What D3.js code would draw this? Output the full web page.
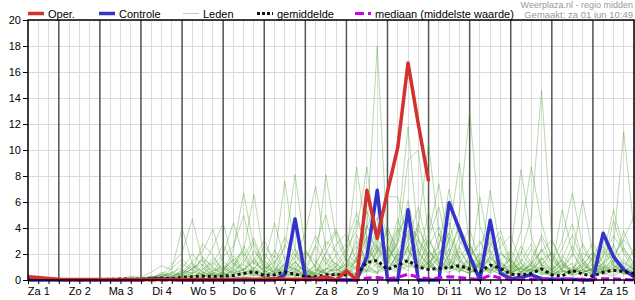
<!DOCTYPE html>
<html><head><meta charset="utf-8">
<script src="https://cdn.jsdelivr.net/npm/d3@7"></script>
<style>body{margin:0;background:#fff}svg{display:block;font-family:"Liberation Sans",Arial,sans-serif}</style>
</head><body><svg id="c" width="635" height="300"></svg>
<script>
const dagLabels = ["Za 1","Zo 2","Ma 3","Di 4","Wo 5","Do 6","Vr 7","Za 8","Zo 9","Ma 10","Di 11","Wo 12","Do 13","Vr 14","Za 15"];
const yTicks = [0,2,4,6,8,10,12,14,16,18,20];
const legendNames = ["Oper.","Controle","Leden","gemiddelde","mediaan (middelste waarde)"];
const bronTekst = ["Weerplaza.nl - regio midden","Gemaakt: za 01 jun 10:49"];

const oper = [0.25,0.2,0.12, 0.05,0.03,0.03,0.03, 0.03,0.03,0.03,0.03, 0.03,0.03,0.03,0.03, 0.03,0.03,0.03,0.03, 0.03,0.03,0.05,0.05, 0.05,0.1,0.05,0.05, 0.05,0.1,0.25,0, 0.7,0,6.9,3.2, 6.8,10.2,16.7,12.0, 7.6];
const controle = [0,0,0, 0,0,0,0, 0,0,0,0, 0,0.1,0.1,0.05, 0,0,0,0, 0,0,0,0, 0,0,0.4,4.7, 0.25,0.1,0.05,0, 0,0,1.8,6.9, 0,0,5.4,0, 0,0,5.95,3.9, 1.85,0,4.6,0.5, 0.1,0.2,0.4,0.1, 0.05,0.05,0.05,0, 0,3.6,1.8,0.8, 0.25];
const gemiddelde = [0.2,0.15,0.08, 0.05,0.03,0.03,0.03, 0.04,0.05,0.08,0.06, 0.06,0.1,0.15,0.12, 0.2,0.25,0.3,0.25, 0.3,0.35,0.5,0.64, 0.35,0.4,0.62,0.45, 0.25,0.25,0.4,0.4, 0.4,0.45,1.35,1.5, 0.8,1.15,1.5,1.0, 0.8,0.9,0.95,1.1, 0.85,0.65,1.15,0.9, 0.45,0.4,0.5,0.85, 0.4,0.3,0.75,0.45, 0.3,0.6,0.75,0.65, 0.5];
const mediaan = [0.15,0.1,0.05, 0,0,0,0, 0,0,0,0, 0,0,0,0, 0,0,0,0, 0,0.05,0.05,0.05, 0,0,0.05,0, 0,0,0,0, 0,0,0.15,0.2, 0.1,0.2,0.45,0.2, 0.1,0.15,0.25,0.2, 0.1,0.05,0.35,0.15, 0.05,0.05,0.05,0.05, 0.05,0.05,0.05,0.05, 0.05,0.1,0.1,0.05, 0];

const leden = [
[0,0,0, 0,0,0,0, 0,0,0,0.1, 0.2,0.6,1.1,0.8, 4.0,1.2,0.3,0.5, 0.8,1.5,2.2,0.6, 0.2,0.4,1.3,0.8, 0.3,0.5,2.1,1.2, 0.8,3.5,1.2,0.5, 2.4,1.5,3.8,2.0, 1.2,0.8,3.1,5.2, 12.95,4.2,1.8,0.9, 0.5,1.4,2.8,1.1, 0.4,0.9,2.6,1.3, 0.6,1.8,3.4,2.2, 1.0],
[0,0,0, 0,0,0,0, 0,0,0,0, 0,0.2,0.4,1.2, 2.1,4.67,1.5,0.4, 0.2,0.9,1.8,3.2, 1.1,0.5,0.8,2.4, 1.0,0.3,0.9,0.5, 0.2,1.6,3.4,2.5, 1.3,3.6,5.1,2.2, 0.9,2.8,4.4,1.6, 0.8,6.4,2.1,0.7, 0.3,0.6,1.2,3.5, 1.8,0.7,0.4,1.5, 2.9,1.2,0.6,0.9, 2.4],
[0,0,0, 0,0,0,0, 0,0,0,0, 0.1,0,0.5,0.3, 0.6,1.4,2.2,3.9, 1.2,0.6,0.8,1.5, 3.1,1.2,0.4,0.7, 2.2,1.4,0.5,0.3, 1.8,4.6,2.7,1.1, 0.6,2.1,4.2,3.3, 1.5,0.7,1.9,4.1, 2.6,1.1,6.9,2.3, 0.9,0.4,0.6,1.7, 0.8,2.4,4.3,1.6, 0.5,0.8,1.4,3.8, 1.7],
[0,0,0, 0,0,0,0, 0,0,0,0.2, 0.1,0.3,0.2,0.6, 0.9,2.0,1.1,2.5, 4.4,1.3,0.5,0.9, 1.6,0.5,2.7,1.4, 0.6,1.1,3.0,2.2, 0.9,2.2,5.3,3.1, 1.8,4.7,2.4,1.0, 3.2,5.6,2.1,0.8, 1.7,3.0,1.3,0.5, 2.2,8.5,3.4,1.2, 0.7,1.5,0.6,2.8, 1.4,3.3,2.1,0.7, 1.1],
[0,0,0, 0,0,0,0, 0,0,0,0, 0,0,0.1,0.3, 0.5,0.8,1.6,1.1, 2.0,4.4,1.8,0.7, 0.4,1.2,3.3,1.9, 0.8,0.3,1.2,2.7, 3.6,1.4,0.7,2.2, 4.1,1.9,3.0,5.6, 2.3,1.0,0.5,2.7, 3.9,1.4,0.8,2.1, 1.3,3.8,8.7,4.4, 1.6,0.7,0.5,1.2, 2.1,0.9,4.6,2.0, 0.8],
[0,0,0, 0,0,0,0, 0,0,0.1,0.3, 0.2,0.1,0.6,0.4, 1.3,0.7,2.8,1.9, 0.6,2.4,6.7,2.5, 0.8,0.3,0.6,1.4, 0.5,2.6,1.3,0.4, 0.9,1.7,4.0,6.2, 3.3,1.4,2.6,1.7, 0.8,3.6,1.4,0.6, 1.9,2.7,4.2,1.5, 0.6,2.0,4.9,14.6, 3.1,1.2,0.5,0.8, 1.6,0.6,1.3,2.5, 1.2],
[0,0,0, 0,0,0,0, 0,0,0,0, 0,0,0.2,0.5, 0.3,0.9,1.2,0.6, 1.8,2.6,4.96,1.7, 0.5,1.9,0.8,0.4, 1.5,3.4,1.6,0.9, 0.4,1.1,2.9,4.8, 1.6,0.8,1.7,3.9, 2.4,1.2,3.3,1.5, 0.5,1.1,2.6,3.8, 1.4,0.6,1.2,2.3, 0.9,5.4,2.2,0.8, 0.4,1.3,2.7,1.1, 0.6],
[0,0,0, 0,0,0,0, 0,0,0,0, 0.1,0.3,0.2,0.9, 1.6,0.8,0.4,1.3, 2.7,1.1,2.3,6.6, 1.5,0.7,1.8,0.9, 0.3,0.6,2.1,3.7, 1.6,0.9,1.7,3.1, 2.2,4.0,1.6,0.6, 1.3,2.2,1.1,3.4, 1.8,0.8,3.3,1.2, 0.5,1.6,0.7,2.4, 1.4,3.0,6.7,2.6, 1.0,0.7,1.8,3.1, 2.2],
[0,0,0, 0,0,0,0, 0,0,0,0, 0,0,0,0.2, 0.4,1.3,0.6,1.7, 0.8,1.6,0.7,2.2, 1.3,4.4,1.5,0.6, 1.1,0.4,0.8,1.9, 2.8,5.2,2.0,0.9, 1.5,2.9,6.1,2.3, 1.1,0.6,2.0,4.3, 1.9,0.9,1.5,2.6, 3.4,1.3,0.6,1.1, 2.2,0.8,1.9,6.15, 2.0,0.6,1.2,0.5, 0.9],
[0,0,0, 0,0,0,0, 0,0,0,0.1, 0,0.2,0.4,0.3, 0.7,0.5,1.8,0.9, 0.4,1.1,2.0,1.2, 2.6,1.7,7.6,2.3, 0.8,0.5,1.4,0.7, 1.2,3.0,1.4,2.6, 0.9,1.8,3.5,1.3, 2.6,4.1,1.7,0.8, 0.5,1.4,2.3,1.0, 0.7,2.6,1.3,0.5, 0.8,1.6,3.5,1.4, 0.6,1.9,5.4,2.4, 1.3],
[0,0,0, 0,0,0,0, 0,0,0,0, 0,0,0.1,0.2, 0.5,1.1,0.6,0.4, 1.4,0.8,1.3,2.9, 0.9,1.3,2.5,8.1, 2.4,0.9,0.4,1.0, 2.0,1.3,3.3,1.6, 2.7,1.2,0.7,2.0, 3.1,1.6,0.8,2.2, 1.2,0.5,1.9,3.3, 1.2,0.8,2.4,1.1, 0.5,1.2,0.7,2.1, 1.5,0.8,2.6,11.4, 3.8],
[0,0,0, 0,0,0,0, 0,0,0,0, 0,0.1,0.4,0.2, 0.8,0.5,1.1,0.3, 0.6,1.9,0.7,1.4, 0.8,2.3,1.0,1.7, 3.6,7.2,2.4,0.9, 0.5,1.8,4.2,2.0, 3.7,1.6,2.2,1.4, 0.8,1.9,3.6,1.7, 2.8,1.1,0.6,1.5, 2.3,0.9,1.6,3.2, 1.1,0.4,0.9,1.6, 0.7,1.3,2.0,3.2, 4.9],
[0,0,0, 0,0,0,0, 0,0,0,0, 0,0,0,0.1, 0.3,0.9,1.5,0.7, 1.1,0.4,1.6,0.8, 2.1,0.9,0.5,1.3, 2.2,1.0,8.1,3.2, 1.4,2.6,1.2,3.8, 2.0,0.8,1.5,4.4, 1.6,0.7,1.2,2.5, 0.9,2.0,1.1,0.6, 1.7,0.5,1.3,2.2, 3.1,1.4,0.6,1.3, 0.4,2.3,1.1,0.5, 1.4],
[0,0,0, 0,0,0,0, 0,0,0,0, 0.1,0,0.3,0.6, 0.4,0.2,0.8,1.4, 0.5,1.0,2.6,1.3, 0.7,1.5,0.6,2.0, 0.9,2.7,5.0,1.8, 0.7,1.5,2.3,1.4, 4.0,2.3,1.3,0.8, 2.2,1.4,0.9,1.8, 0.6,1.6,2.9,1.3, 0.9,2.2,1.0,1.7, 0.6,1.9,1.1,0.5, 1.8,3.4,1.2,0.7, 0.3],
[0,0,0, 0,0,0,0, 0,0,0,0, 0,0,0.2,0.1, 0.6,0.3,0.5,1.0, 0.4,0.7,1.2,0.6, 1.3,0.5,1.1,0.8, 0.4,1.3,2.6,3.9, 1.9,8.7,3.0,1.2, 0.8,2.0,1.4,3.1, 1.9,1.0,2.4,1.2, 0.7,1.3,0.5,2.0, 1.5,0.6,0.9,1.4, 0.8,1.5,0.7,1.0, 2.2,0.9,1.5,0.8, 0.6],
[0,0,0, 0,0,0,0, 0,0,0,0, 0,0,0.1,0.2, 0.2,0.6,0.4,0.7, 0.9,0.5,0.8,1.6, 0.6,1.0,0.4,1.1, 0.7,0.5,1.7,1.2, 2.4,3.8,8.7,2.1, 1.1,3.2,2.3,1.5, 5.2,2.4,1.0,0.6, 1.5,0.8,1.8,0.9, 0.4,1.1,0.7,1.6, 2.0,0.8,1.3,0.6, 0.9,2.6,1.4,0.6, 0.4],
[0,0,0, 0,0,0,0, 0,0,0,0, 0,0,0,0, 0.1,0.4,0.2,0.6, 0.3,0.8,0.5,1.0, 0.4,0.7,1.2,0.5, 0.3,0.8,0.5,1.1, 0.6,1.5,4.0,18.0, 2.6,1.1,2.4,0.9, 1.4,0.7,1.6,0.8, 0.5,1.2,0.7,1.4, 0.6,0.9,0.4,1.0, 0.5,1.3,0.6,0.8, 1.2,0.5,0.9,1.6, 0.7],
[0,0,0, 0,0,0,0, 0,0,0,0, 0,0,0,0.1, 0.2,0.5,0.9,0.4, 0.6,1.3,0.7,0.5, 1.0,0.6,0.9,1.4, 0.6,0.4,0.9,0.7, 1.3,0.8,2.2,4.0, 6.4,6.4,2.9,1.2, 0.8,1.7,0.9,1.3, 2.4,1.0,0.5,0.9, 1.6,0.7,1.1,0.6, 0.4,0.9,2.0,0.8, 0.5,1.1,0.6,1.3, 0.8],
[0,0,0, 0,0,0,0, 0,0,0,0, 0,0,0,0, 0.1,0.3,0.6,0.3, 0.5,0.4,0.9,0.6, 0.3,0.8,0.5,0.9, 0.5,1.0,0.6,0.4, 0.8,0.5,1.4,2.8, 1.5,3.9,11.8,3.0, 1.2,0.6,1.4,0.9, 0.5,1.3,0.8,0.4, 1.0,0.6,1.4,0.7, 0.4,0.8,0.5,1.1, 0.6,0.9,0.4,1.0, 0.5],
[0,0,0, 0,0,0,0, 0,0,0,0, 0,0,0,0, 0,0.2,0.4,0.2, 0.4,0.6,0.3,0.8, 0.5,0.3,0.7,0.4, 0.6,0.3,0.8,1.3, 0.5,1.1,0.7,2.4, 1.6,2.8,9.2,10.0, 3.4,1.3,0.6,1.0, 0.7,0.4,1.1,0.5, 0.8,1.3,0.6,0.9, 0.3,0.6,1.0,0.5, 0.9,0.4,0.7,0.5, 0.3],
[0,0,0, 0,0,0,0, 0,0,0,0, 0,0,0,0, 0,0.1,0.3,0.5, 0.2,0.4,0.6,0.3, 0.7,0.4,0.3,0.6, 0.4,0.8,0.5,0.3, 0.7,0.4,1.0,0.6, 1.4,0.8,2.6,4.1, 10.5,3.6,1.2,0.7, 1.1,0.5,0.9,0.4, 0.6,1.0,0.5,0.8, 0.4,0.7,0.3,0.6, 0.8,0.5,1.0,0.4, 0.6],
[0,0,0, 0,0,0,0, 0,0,0,0, 0,0,0,0, 0,0,0.2,0.4, 0.3,0.2,0.5,0.4, 0.2,0.6,0.4,0.3, 0.5,0.3,0.6,0.8, 0.4,0.9,0.6,1.3, 0.8,1.5,1.0,2.3, 3.5,7.4,2.8,1.4, 0.9,2.1,1.3,0.7, 1.2,0.5,0.8,0.4, 0.6,1.1,0.5,0.8, 0.4,0.7,1.1,0.6, 0.4],
[0,0,0, 0,0,0,0, 0,0,0,0, 0,0,0,0, 0,0,0,0.2, 0.1,0.3,0.2,0.4, 0.3,0.2,0.5,0.3, 0.4,0.2,0.3,0.6, 0.3,0.5,0.8,0.6, 1.1,0.7,1.3,0.9, 1.8,2.5,7.0,3.1, 1.6,0.9,1.7,0.8, 0.5,0.9,0.6,1.2, 0.7,0.4,0.8,0.5, 0.3,0.6,0.9,1.4, 0.8],
[0,0,0, 0,0,0,0, 0,0,0,0, 0,0,0,0, 0,0,0,0, 0,0.1,0.2,0.1, 0.3,0.1,0.2,0.4, 0.2,0.3,0.2,0.4, 0.6,0.3,0.7,0.5, 0.9,0.6,1.1,0.8, 1.4,2.0,3.6,9.0, 2.7,1.3,0.7,1.2, 0.6,0.4,0.9,0.5, 0.3,0.7,0.4,0.6, 0.9,0.5,0.3,0.7, 0.4]
];

const svg = d3.select("#c");
const L = 28, R = 634, T = 20, B = 280;
const nSteps = controle.length;
const x = d3.scaleLinear().domain([0, nSteps - 1]).range([L, R]);
const y = d3.scaleLinear().domain([0, 20]).range([B, T]);
const stepIdx = d3.range(nSteps);
const dayStart = stepIdx.filter(s => s > 0 && s < nSteps - 1 && (s - 3) % 4 === 0);

// light grid
const grid = svg.append("g");
grid.selectAll("line.v").data(stepIdx).join("line")
  .attr("x1", d => x(d)).attr("x2", d => x(d)).attr("y1", T).attr("y2", B)
  .attr("stroke", "#dcdcdc").attr("stroke-width", 1).attr("shape-rendering","crispEdges");
grid.selectAll("line.h").data(yTicks.filter(v => v > 0)).join("line")
  .attr("x1", L).attr("x2", R).attr("y1", d => y(d)).attr("y2", d => y(d))
  .attr("stroke", "#dcdcdc").attr("stroke-width", 1).attr("shape-rendering","crispEdges");
grid.selectAll("line.d").data(dayStart).join("line")
  .attr("x1", d => x(d)).attr("x2", d => x(d)).attr("y1", T).attr("y2", B)
  .attr("stroke", "#555").attr("stroke-width", 1.5);

const line = d3.line().x((d, i) => x(i)).y(d => y(d));

// members
svg.append("g").selectAll("path").data(leden).join("path")
  .attr("d", line).attr("fill", "none")
  .attr("stroke", "#4a9a2a").attr("stroke-opacity", 0.38).attr("stroke-width", 1);

svg.append("path").attr("d", line(controle)).attr("fill","none")
  .attr("stroke","#3333cc").attr("stroke-width",3.5).attr("stroke-linejoin","round");
svg.append("path").attr("d", line(mediaan)).attr("fill","none")
  .attr("stroke","#cc00ee").attr("stroke-width",3).attr("stroke-dasharray","8,4");
svg.append("path").attr("d", line(gemiddelde)).attr("fill","none")
  .attr("stroke","#111").attr("stroke-width",3).attr("stroke-dasharray","3,3");
svg.append("path").attr("d", line(oper)).attr("fill","none")
  .attr("stroke","#d33030").attr("stroke-width",3.5).attr("stroke-linejoin","round");

// frame
svg.append("rect").attr("x", L).attr("y", T).attr("width", R - L).attr("height", B - T)
  .attr("fill","none").attr("stroke","#000").attr("stroke-width",1.5);

// y axis
const yAxis = d3.axisLeft(y).tickValues(yTicks).tickSize(5).tickPadding(2).tickFormat(d3.format("d"));
const ya = svg.append("g").attr("transform", `translate(${L},0)`).call(yAxis);
ya.select(".domain").remove();
ya.selectAll("text").attr("font-size", 11).attr("fill","#000").attr("font-family",'"Liberation Sans",Arial,sans-serif');
ya.selectAll("line").attr("stroke","#000");

// x axis ticks at each step
const xTickAxis = d3.axisBottom(x).tickValues(stepIdx).tickSize(4).tickFormat("");
const xa = svg.append("g").attr("transform", `translate(0,${B})`).call(xTickAxis);
xa.select(".domain").remove();
xa.selectAll("line").attr("stroke","#000");
// day labels at noon
const xLabAxis = d3.axisBottom(x).tickValues(dagLabels.map((d, i) => 1 + 4 * i))
  .tickSize(0).tickPadding(7).tickFormat((d, i) => dagLabels[i]);
const xl = svg.append("g").attr("transform", `translate(0,${B})`).call(xLabAxis);
xl.select(".domain").remove();
xl.selectAll("text").attr("font-size", 11).attr("fill","#000").attr("font-family",'"Liberation Sans",Arial,sans-serif');

// legend
const leg = svg.append("g").attr("font-size", 11);
const legItems = [
  {x: 28, color: "#d33030", w: 3.5, dash: null, op: 1},
  {x: 99, color: "#3333cc", w: 3.5, dash: null, op: 1},
  {x: 183, color: "#4a9a2a", w: 1, dash: null, op: 0.4},
  {x: 257, color: "#111", w: 3, dash: "3,2", op: 1},
  {x: 355, color: "#cc00ee", w: 3, dash: "9,4", op: 1}
];
legItems.forEach((it, i) => {
  leg.append("line").attr("x1", it.x).attr("x2", it.x + 16).attr("y1", 13.5).attr("y2", 13.5)
    .attr("stroke", it.color).attr("stroke-width", it.w).attr("stroke-opacity", it.op)
    .attr("stroke-dasharray", it.dash);
  leg.append("text").attr("x", it.x + 20).attr("y", 17.5).text(legendNames[i]);
});
svg.append("text").attr("x", 633).attr("y", 8).attr("text-anchor","end")
  .attr("font-size", 9).attr("fill","#999").text(bronTekst[0]);
svg.append("text").attr("x", 633).attr("y", 17.5).attr("text-anchor","end")
  .attr("font-size", 9.5).attr("fill","#999").text(bronTekst[1]);
</script></body></html>
